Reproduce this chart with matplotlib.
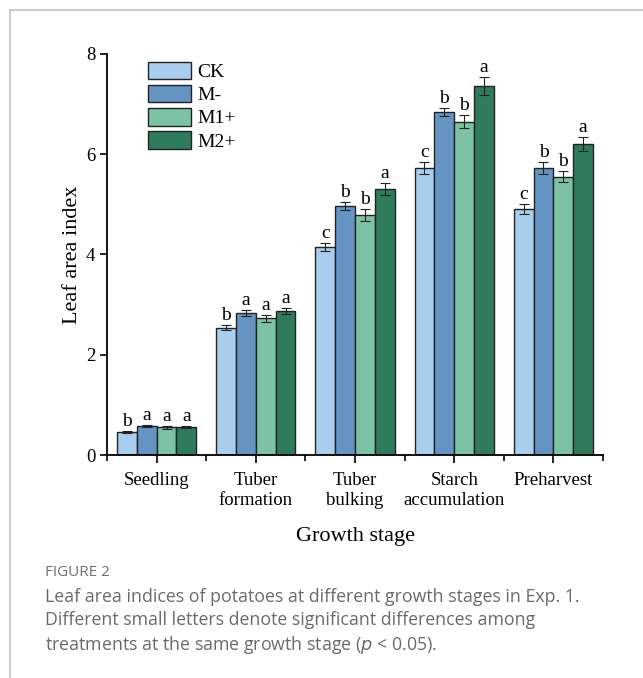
import numpy as np
import matplotlib
matplotlib.use('Agg')
import matplotlib.pyplot as plt
from matplotlib.lines import Line2D

# Data
stages = ['Seedling', 'Tuber\nformation', 'Tuber\nbulking', 'Starch\naccumulation', 'Preharvest']
treatments = ['CK', 'M-', 'M1+', 'M2+']
colors = ['#A8CDED', '#6594C2', '#7DC2A4', '#2F7B5C']

lai_ck = [0.46, 2.54, 4.15, 5.73, 4.91]
lai_mminus = [0.58, 2.83, 4.96, 6.84, 5.72]
lai_m1 = [0.55, 2.73, 4.79, 6.65, 5.55]
lai_m2 = [0.56, 2.88, 5.31, 7.37, 6.20]

err_ck = [0.02, 0.05, 0.08, 0.12, 0.10]
err_mminus = [0.02, 0.06, 0.08, 0.08, 0.12]
err_m1 = [0.03, 0.07, 0.12, 0.13, 0.11]
err_m2 = [0.02, 0.06, 0.12, 0.18, 0.14]

letters_ck = ['b', 'b', 'c', 'c', 'c']
letters_mminus = ['a', 'a', 'b', 'b', 'b']
letters_m1 = ['a', 'a', 'b', 'b', 'b']
letters_m2 = ['a', 'a', 'a', 'a', 'a']

values = [lai_ck, lai_mminus, lai_m1, lai_m2]
errors = [err_ck, err_mminus, err_m1, err_m2]
letters = [letters_ck, letters_mminus, letters_m1, letters_m2]

plt.rcParams['font.family'] = ['Liberation Serif', 'DejaVu Serif']

fig = plt.figure(figsize=(6.43, 6.78), dpi=100)
ax = fig.add_axes([0.1664, 0.3289, 0.7714, 0.5915])

x = np.arange(len(stages))
w = 0.2
for i, (vals, errs, lets) in enumerate(zip(values, errors, letters)):
    pos = x + (i - 1.5) * w
    ax.bar(pos, vals, width=w, color=colors[i], edgecolor='#222222', linewidth=1.0,
           label=treatments[i], zorder=2)
    ax.errorbar(pos, vals, yerr=errs, fmt='none', ecolor='#222222', elinewidth=0.8,
                capsize=3.5, capthick=0.8, zorder=3)
    for p, v, e, l in zip(pos, vals, errs, lets):
        ax.text(p, v + e + 0.02, l, ha='center', va='bottom', fontsize=14)

ax.set_xlim(-0.5, 4.5)
ax.set_ylim(0, 8)
ax.set_yticks([0, 2, 4, 6, 8])
ax.set_xticks(x)
ax.set_xticklabels(stages, fontsize=13.5, linespacing=1.25)
ax.set_xticks(np.arange(-0.5, 5, 1), minor=True)
ax.tick_params(axis='x', which='major', length=6, width=1.2, direction='out', pad=6)
ax.tick_params(axis='x', which='minor', length=4, width=1.2, direction='out')
ax.tick_params(axis='y', which='major', length=5, width=1.2, direction='out', labelsize=13.5)
ax.tick_params(axis='y', which='minor', left=False)
for s in ['top', 'right']:
    ax.spines[s].set_visible(False)
for s in ['left', 'bottom']:
    ax.spines[s].set_linewidth(1.3)
ax.set_ylabel('Leaf area index', fontsize=16, labelpad=3)
ax.set_xlabel('Growth stage', fontsize=16, labelpad=13)

ax.legend(loc='upper left', bbox_to_anchor=(0.06, 1.01), frameon=False, fontsize=14,
          handlelength=2.2, handleheight=1.0, labelspacing=0.2, handletextpad=0.3,
          borderaxespad=0.2)

# caption and frame
cap = ['Open Sans', 'DejaVu Sans']
fig.text(45 / 643, 1 - 573 / 678, 'FIGURE 2', fontsize=11, color='#707070', family=cap,
         va='center')
fig.text(45 / 643, 1 - 622 / 678,
         'Leaf area indices of potatoes at different growth stages in Exp. 1.\n'
         'Different small letters denote significant differences among\n'
         'treatments at the same growth stage ($\\it{p}$ < 0.05).',
         fontsize=12.8, color='#6a6a6a', family=cap, va='center', linespacing=1.36)
fig.add_artist(Line2D([10 / 643, 10 / 643], [0, 1 - 10 / 678], color='#c4c4c4', lw=1.2))
fig.add_artist(Line2D([10 / 643, 1], [1 - 10 / 678, 1 - 10 / 678], color='#c4c4c4', lw=1.2))

fig.savefig('out.png', dpi=100)
